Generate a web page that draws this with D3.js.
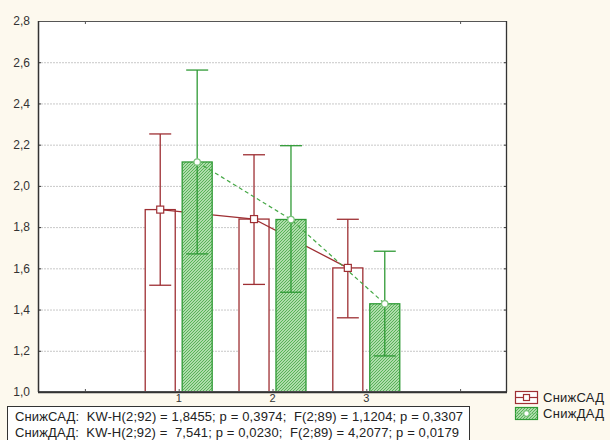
<!DOCTYPE html>
<html>
<head>
<meta charset="utf-8">
<script src="https://cdn.jsdelivr.net/npm/d3@7"></script>
<style>
  html, body { margin: 0; padding: 0; background: #fdf9ee; }
  svg { display: block; font-family: "Liberation Sans", Arial, sans-serif; }
</style>
</head>
<body>
<svg id="chart" width="610" height="440"></svg>
<script>
// ---- data ----
const categories = ["0", "1", "2", "3", "4"];
const tickLabels = ["", "1", "2", "3", ""];
const groups = ["1", "2", "3"];
const sadMean  = [1.885, 1.839, 1.602];
const sadUpper = [2.252, 2.151, 1.838];
const sadLower = [1.518, 1.522, 1.360];
const dadMean  = [2.116, 1.837, 1.428];
const dadUpper = [2.562, 2.195, 1.683];
const dadLower = [1.670, 1.484, 1.175];
const yTicks = [1.0, 1.2, 1.4, 1.6, 1.8, 2.0, 2.2, 2.4, 2.6, 2.8];
const seriesNames = ["СнижСАД", "СнижДАД"];
const statLines = [
  "СнижСАД:  KW-H(2;92) = 1,8455; p = 0,3974;  F(2;89) = 1,1204; p = 0,3307",
  "СнижДАД:  KW-H(2;92) =  7,541; p = 0,0230;  F(2;89) = 4,2077; p = 0,0179"
];

// ---- layout ----
const svg = d3.select("#chart");
const L = 38, R = 507, T = 21, B = 392;
const RED = "#9e2f33";
const GREEN = "#2f9a35", GREEN_LIGHT = "#7cc47c";

const x = d3.scaleBand().domain(categories).range([L, R]).paddingInner(0).paddingOuter(0);
const y = d3.scaleLinear().domain([1.0, 2.8]).range([B, T]);
const bw = x.bandwidth();
const barW = bw * 0.32;
const off = bw * 0.197;
const cx = g => x(g) + bw / 2;

// pattern
const defs = svg.append("defs");
const pat = defs.append("pattern").attr("id", "hatch").attr("patternUnits", "userSpaceOnUse")
  .attr("width", 3).attr("height", 3);
pat.append("rect").attr("width", 3).attr("height", 3).attr("fill", "#d4eecf");
pat.append("path").attr("d", "M-1,1 L1,-1 M0,3 L3,0 M2,4 L4,2")
  .attr("stroke", "#52b052").attr("stroke-width", 1.1);

// plot background
svg.append("rect").attr("x", L).attr("y", T).attr("width", R - L).attr("height", B - T).attr("fill", "#fff");

// gridlines
svg.append("g").selectAll("line").data(yTicks.slice(1, -1)).join("line")
  .attr("x1", L).attr("x2", R).attr("y1", d => y(d) + 0.5).attr("y2", d => y(d) + 0.5)
  .attr("stroke", "#c8c8c8").attr("stroke-width", 1).attr("stroke-dasharray", "2,1");

// y axis labels
const yAxis = d3.axisLeft(y).tickValues(yTicks).tickSize(0).tickPadding(8)
  .tickFormat(d => d3.format(".1f")(d).replace(".", ","));
const gy = svg.append("g").attr("transform", `translate(${L},0)`).call(yAxis);
gy.select(".domain").remove();
gy.selectAll("text").attr("font-size", 12).attr("fill", "#333").attr("font-family", "Liberation Sans, Arial, sans-serif");

// small inward ticks left/right
svg.append("g").selectAll("line").data(yTicks).join("line")
  .attr("x1", L).attr("x2", L + 3).attr("y1", d => y(d) + 0.5).attr("y2", d => y(d) + 0.5)
  .attr("stroke", "#333");
svg.append("g").selectAll("line").data(yTicks).join("line")
  .attr("x1", R - 3).attr("x2", R).attr("y1", d => y(d) + 0.5).attr("y2", d => y(d) + 0.5)
  .attr("stroke", "#333");

// x axis labels
const xAxis = d3.axisBottom(x).tickSize(0).tickPadding(2).tickFormat((d, i) => tickLabels[i]);
const gx = svg.append("g").attr("transform", `translate(0,${B})`).call(xAxis);
gx.select(".domain").remove();
gx.selectAll("text").attr("font-size", 11).attr("fill", "#333").attr("font-family", "Liberation Sans, Arial, sans-serif");

// x ticks (inward)
svg.append("g").selectAll("line").data(categories).join("line")
  .attr("x1", d => cx(d) + 0.5).attr("x2", d => cx(d) + 0.5).attr("y1", B - 3).attr("y2", B)
  .attr("stroke", "#555");
svg.append("g").selectAll("line").data([categories[0], categories[4]]).join("line")
  .attr("x1", d => cx(d) + 0.5).attr("x2", d => cx(d) + 0.5).attr("y1", T).attr("y2", T + 3)
  .attr("stroke", "#555");

// SAD bars
svg.append("g").selectAll("rect").data(groups).join("rect")
  .attr("x", (g) => cx(g) - off - barW / 2)
  .attr("y", (g, i) => y(sadMean[i]))
  .attr("width", barW)
  .attr("height", (g, i) => B - y(sadMean[i]))
  .attr("fill", "#fff").attr("stroke", RED).attr("stroke-width", 1.3);

// SAD line
const sadLine = d3.line().x((d, i) => cx(groups[i]) - off).y(d => y(d));
svg.append("path").datum(sadMean).attr("d", sadLine)
  .attr("fill", "none").attr("stroke", RED).attr("stroke-width", 1.3);

// DAD bars
svg.append("g").selectAll("rect").data(groups).join("rect")
  .attr("x", (g) => cx(g) + off - barW / 2)
  .attr("y", (g, i) => y(dadMean[i]))
  .attr("width", barW)
  .attr("height", (g, i) => B - y(dadMean[i]))
  .attr("fill", "url(#hatch)").attr("stroke", GREEN).attr("stroke-width", 1.3);

// error bars
function errBars(upper, lower, dx, color) {
  const g = svg.append("g").attr("stroke", color).attr("stroke-width", 1.3);
  const cap = 11;
  groups.forEach((grp, i) => {
    const xc = cx(grp) + dx;
    g.append("line").attr("x1", xc).attr("x2", xc).attr("y1", y(upper[i])).attr("y2", y(lower[i]));
    g.append("line").attr("x1", xc - cap).attr("x2", xc + cap).attr("y1", y(upper[i])).attr("y2", y(upper[i]));
    g.append("line").attr("x1", xc - cap).attr("x2", xc + cap).attr("y1", y(lower[i])).attr("y2", y(lower[i]));
  });
}
errBars(sadUpper, sadLower, -off, RED);
errBars(dadUpper, dadLower, off, GREEN);

// DAD dashed line
const dadLine = d3.line().x((d, i) => cx(groups[i]) + off).y(d => y(d));
svg.append("path").datum(dadMean).attr("d", dadLine)
  .attr("fill", "none").attr("stroke", "#45a845").attr("stroke-width", 1.2).attr("stroke-dasharray", "4,3");

// markers
svg.append("g").selectAll("rect").data(sadMean).join("rect")
  .attr("x", (d, i) => cx(groups[i]) - off - 3.5).attr("y", d => y(d) - 3.5)
  .attr("width", 7).attr("height", 7).attr("fill", "#fff").attr("stroke", RED).attr("stroke-width", 1.2);
svg.append("g").selectAll("circle").data(dadMean).join("circle")
  .attr("cx", (d, i) => cx(groups[i]) + off).attr("cy", d => y(d)).attr("r", 3.2)
  .attr("fill", "#fff").attr("stroke", GREEN_LIGHT).attr("stroke-width", 1.2);

// frame
svg.append("rect").attr("x", L + 0.5).attr("y", T + 0.5).attr("width", R - L - 1).attr("height", B - T - 1)
  .attr("fill", "none").attr("stroke", "#555").attr("stroke-width", 1);
svg.append("line").attr("x1", L + 0.5).attr("x2", L + 0.5).attr("y1", T).attr("y2", B).attr("stroke", "#333").attr("stroke-width", 1.5);
svg.append("line").attr("x1", L).attr("x2", R).attr("y1", B + 0.5).attr("y2", B + 0.5).attr("stroke", "#333").attr("stroke-width", 1.5);
svg.append("line").attr("x1", R - 0.5).attr("x2", R - 0.5).attr("y1", T).attr("y2", B).attr("stroke", "#333").attr("stroke-width", 1.3);

// stats box
svg.append("rect").attr("x", 7.5).attr("y", 406.5).attr("width", 462).attr("height", 40)
  .attr("fill", "#fff").attr("stroke", "#333").attr("stroke-width", 1);
const statLen = [448, 444];
svg.append("g").selectAll("text").data(statLines).join("text")
  .attr("x", 15).attr("y", (d, i) => 421 + i * 15.5)
  .attr("font-size", 13).attr("fill", "#222").attr("xml:space", "preserve")
  .attr("textLength", (d, i) => statLen[i]).attr("lengthAdjust", "spacing")
  .style("white-space", "pre")
  .text(d => d);

// legend
const lg = svg.append("g");
// SAD symbol
lg.append("rect").attr("x", 515.5).attr("y", 391.5).attr("width", 22).attr("height", 12)
  .attr("fill", "#fff").attr("stroke", RED).attr("stroke-width", 1.2);
lg.append("line").attr("x1", 515.5).attr("x2", 537.5).attr("y1", 397.5).attr("y2", 397.5).attr("stroke", RED).attr("stroke-width", 1.2);
lg.append("rect").attr("x", 523.5).attr("y", 394.5).attr("width", 6).attr("height", 6)
  .attr("fill", "#fff").attr("stroke", RED).attr("stroke-width", 1.2);
// DAD symbol
lg.append("rect").attr("x", 515.5).attr("y", 407.5).attr("width", 22).attr("height", 12)
  .attr("fill", "url(#hatch)").attr("stroke", GREEN).attr("stroke-width", 1.2);
lg.append("line").attr("x1", 515.5).attr("x2", 537.5).attr("y1", 413.5).attr("y2", 413.5)
  .attr("stroke", GREEN_LIGHT).attr("stroke-width", 1.2).attr("stroke-dasharray", "3,2");
lg.append("circle").attr("cx", 526.5).attr("cy", 413.5).attr("r", 2.8)
  .attr("fill", "#fff").attr("stroke", GREEN_LIGHT).attr("stroke-width", 1.2);
lg.selectAll("text").data(seriesNames).join("text")
  .attr("x", 543).attr("y", (d, i) => 402 + i * 16)
  .attr("font-size", 13).attr("fill", "#222")
  .attr("textLength", 61).attr("lengthAdjust", "spacing")
  .text(d => d);
</script>
</body>
</html>
